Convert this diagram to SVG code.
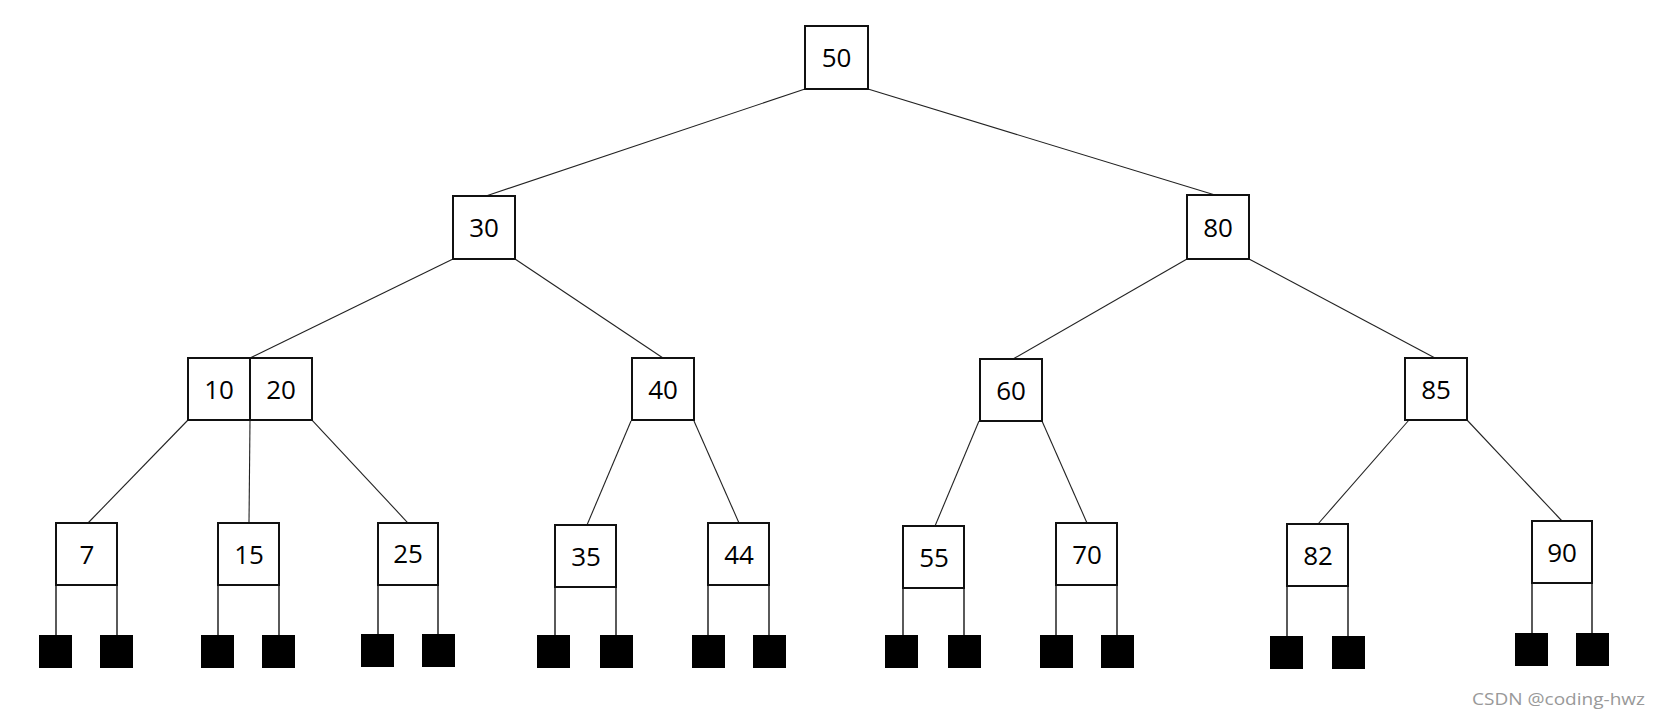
<svg xmlns="http://www.w3.org/2000/svg" width="1661" height="722" viewBox="0 0 1661 722">
<style>
.box{fill:#fff;stroke:#111;stroke-width:2}
.lbl{font-family:"Open Sans","Liberation Sans",sans-serif;font-size:26px;fill:#000;text-anchor:middle}
.leaf{fill:#000}
.edge{stroke:#222;stroke-width:1.1;fill:none}
.stem{stroke:#000;stroke-width:1.3;fill:none}
</style>
<rect width="1661" height="722" fill="#fff"/>
<g id="connectors">
<line class="edge" x1="805" y1="89" x2="486" y2="196"/>
<line class="edge" x1="868" y1="89" x2="1215" y2="195"/>
<line class="edge" x1="453" y1="259" x2="250" y2="358"/>
<line class="edge" x1="515" y1="259" x2="663" y2="358"/>
<line class="edge" x1="1187" y1="259" x2="1013" y2="359"/>
<line class="edge" x1="1249" y1="259" x2="1435" y2="358"/>
<line class="edge" x1="188" y1="420" x2="88" y2="523"/>
<line class="edge" x1="250" y1="420" x2="249" y2="523"/>
<line class="edge" x1="312" y1="420" x2="408" y2="523"/>
<line class="edge" x1="631" y1="421" x2="587" y2="525"/>
<line class="edge" x1="694" y1="421" x2="739" y2="523"/>
<line class="edge" x1="979" y1="421" x2="935" y2="526"/>
<line class="edge" x1="1042" y1="421" x2="1087" y2="523"/>
<line class="edge" x1="1409" y1="420" x2="1318" y2="524"/>
<line class="edge" x1="1467" y1="420" x2="1562" y2="521"/>
<line class="stem" x1="56" y1="585" x2="56" y2="635"/><line class="stem" x1="117" y1="585" x2="117" y2="635"/>
<line class="stem" x1="218" y1="585" x2="218" y2="635"/><line class="stem" x1="279" y1="585" x2="279" y2="635"/>
<line class="stem" x1="378" y1="585" x2="378" y2="634"/><line class="stem" x1="438" y1="585" x2="438" y2="634"/>
<line class="stem" x1="555" y1="587" x2="555" y2="635"/><line class="stem" x1="616" y1="587" x2="616" y2="635"/>
<line class="stem" x1="708" y1="585" x2="708" y2="635"/><line class="stem" x1="769" y1="585" x2="769" y2="635"/>
<line class="stem" x1="903" y1="588" x2="903" y2="635"/><line class="stem" x1="964" y1="588" x2="964" y2="635"/>
<line class="stem" x1="1056" y1="585" x2="1056" y2="635"/><line class="stem" x1="1117" y1="585" x2="1117" y2="635"/>
<line class="stem" x1="1287" y1="586" x2="1287" y2="636"/><line class="stem" x1="1348" y1="586" x2="1348" y2="636"/>
<line class="stem" x1="1532" y1="583" x2="1532" y2="633"/><line class="stem" x1="1592" y1="583" x2="1592" y2="633"/>
</g>
<g id="n50"><rect class="box" x="805" y="26" width="63" height="63"/><text class="lbl" x="836.5" y="67">50</text></g>
<g id="n30"><rect class="box" x="453" y="196" width="62" height="63"/><text class="lbl" x="484" y="237">30</text></g>
<g id="n80"><rect class="box" x="1187" y="195" width="62" height="64"/><text class="lbl" x="1218" y="237">80</text></g>
<g id="n10_20"><rect class="box" x="188" y="358" width="124" height="62"/><line x1="250" y1="358" x2="250" y2="420" stroke="#111" stroke-width="2"/><text class="lbl" x="219" y="399">10</text><text class="lbl" x="281" y="399">20</text></g>
<g id="n40"><rect class="box" x="632" y="358" width="62" height="62"/><text class="lbl" x="663" y="399">40</text></g>
<g id="n60"><rect class="box" x="980" y="359" width="62" height="62"/><text class="lbl" x="1011" y="400">60</text></g>
<g id="n85"><rect class="box" x="1405" y="358" width="62" height="62"/><text class="lbl" x="1436" y="399">85</text></g>
<g id="n7"><rect class="box" x="56" y="523" width="61" height="62"/><text class="lbl" x="87" y="564">7</text><rect class="leaf" x="39" y="635" width="33" height="33"/><rect class="leaf" x="100" y="635" width="33" height="33"/></g>
<g id="n15"><rect class="box" x="218" y="523" width="61" height="62"/><text class="lbl" x="249" y="564">15</text><rect class="leaf" x="201" y="635" width="33" height="33"/><rect class="leaf" x="262" y="635" width="33" height="33"/></g>
<g id="n25"><rect class="box" x="378" y="523" width="60" height="62"/><text class="lbl" x="408" y="563">25</text><rect class="leaf" x="361" y="634" width="33" height="33"/><rect class="leaf" x="422" y="634" width="33" height="33"/></g>
<g id="n35"><rect class="box" x="555" y="525" width="61" height="62"/><text class="lbl" x="586" y="566">35</text><rect class="leaf" x="537" y="635" width="33" height="33"/><rect class="leaf" x="600" y="635" width="33" height="33"/></g>
<g id="n44"><rect class="box" x="708" y="523" width="61" height="62"/><text class="lbl" x="739" y="564">44</text><rect class="leaf" x="692" y="635" width="33" height="33"/><rect class="leaf" x="753" y="635" width="33" height="33"/></g>
<g id="n55"><rect class="box" x="903" y="526" width="61" height="62"/><text class="lbl" x="934" y="567">55</text><rect class="leaf" x="885" y="635" width="33" height="33"/><rect class="leaf" x="948" y="635" width="33" height="33"/></g>
<g id="n70"><rect class="box" x="1056" y="523" width="61" height="62"/><text class="lbl" x="1087" y="564">70</text><rect class="leaf" x="1040" y="635" width="33" height="33"/><rect class="leaf" x="1101" y="635" width="33" height="33"/></g>
<g id="n82"><rect class="box" x="1287" y="524" width="61" height="62"/><text class="lbl" x="1318" y="565">82</text><rect class="leaf" x="1270" y="636" width="33" height="33"/><rect class="leaf" x="1332" y="636" width="33" height="33"/></g>
<g id="n90"><rect class="box" x="1532" y="521" width="60" height="62"/><text class="lbl" x="1562" y="562">90</text><rect class="leaf" x="1515" y="633" width="33" height="33"/><rect class="leaf" x="1576" y="633" width="33" height="33"/></g>
<text x="1472" y="705" font-family="'Open Sans','Liberation Sans',sans-serif" font-size="16.5" fill="#999" textLength="173" lengthAdjust="spacingAndGlyphs">CSDN @coding-hwz</text>
</svg>
